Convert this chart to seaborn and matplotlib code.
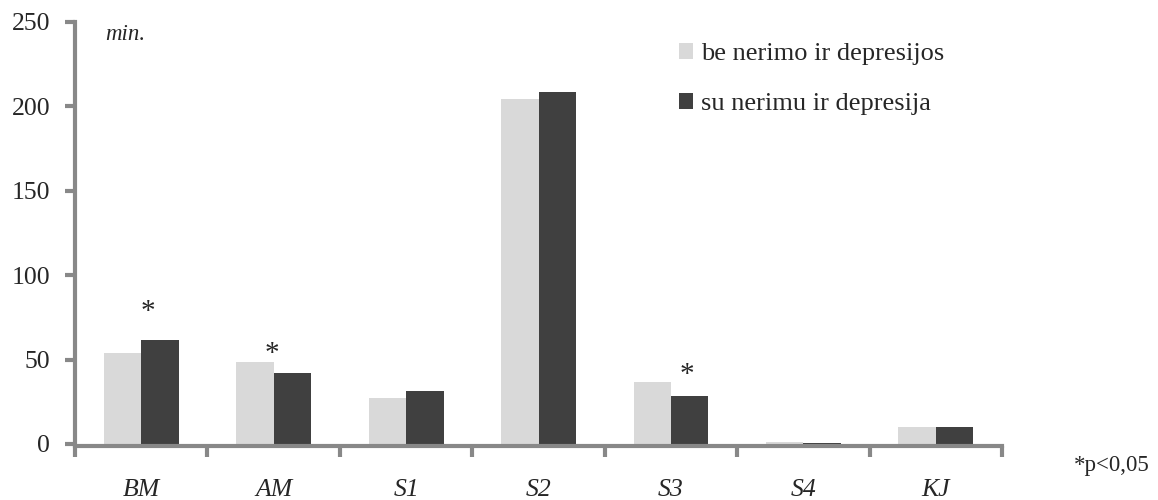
import matplotlib
matplotlib.use("Agg")
import matplotlib.pyplot as plt
from matplotlib.patches import Patch
from matplotlib.ticker import FixedLocator
import numpy as np
import pandas as pd
import seaborn as sns

# Data
categories = ["BM", "AM", "S1", "S2", "S3", "S4", "KJ"]
group_labels = ["be nerimo ir depresijos", "su nerimu ir depresija"]
without_anx = [53.8, 48.6, 27.5, 204.6, 36.8, 1.2, 10.3]
with_anx = [61.7, 41.9, 31.4, 208.5, 28.6, 0.5, 10.3]
significant = ["BM", "AM", "S3"]
y_ticks = [0, 50, 100, 150, 200, 250]

light = "#d9d9d9"
dark = "#404040"
axis_grey = "#888888"

df = pd.DataFrame({
    "cat": categories * 2,
    "group": [group_labels[0]] * len(categories) + [group_labels[1]] * len(categories),
    "value": without_anx + with_anx,
})

sns.set_theme(style="white")
plt.rcParams["font.family"] = ["Liberation Serif", "DejaVu Serif"]

fig = plt.figure(figsize=(11.58, 5.0), dpi=100)
ax = fig.add_axes([0.0648, 0.112, 0.8005, 0.844])

sns.barplot(data=df, x="cat", y="value", hue="group", order=categories,
            hue_order=group_labels, palette=[light, dark], width=0.565,
            gap=0, legend=False, ax=ax, edgecolor="none", linewidth=0)

ax.set_xlim(-0.5, len(categories) - 0.5)
ax.set_ylim(0, 250)
ax.set_xlabel("")
ax.set_ylabel("")

# spines: grey, drawn just outside the data area
for s in ["top", "right"]:
    ax.spines[s].set_visible(False)
for s in ["left", "bottom"]:
    ax.spines[s].set_color(axis_grey)
    ax.spines[s].set_linewidth(3)
ax.spines["bottom"].set_position(("outward", 1.5))
ax.spines["bottom"].set_bounds(-0.5, len(categories) - 0.5)

# y ticks
ax.set_yticks(y_ticks)
ax.set_yticklabels([str(t) for t in y_ticks], fontsize=18.5)
ax.tick_params(axis="y", direction="out", length=7, width=3, color=axis_grey,
               pad=11, left=True)

# x: labels at category centers, tick marks at boundaries
ax.set_xticks(range(len(categories)))
ax.set_xticklabels(categories, fontsize=18.5, fontstyle="italic")
ax.tick_params(axis="x", which="major", length=0, pad=24, bottom=True)
ax.xaxis.set_minor_locator(FixedLocator(np.arange(-0.5, len(categories), 1.0)))
ax.tick_params(axis="x", which="minor", direction="out", length=8, width=3,
               color=axis_grey, bottom=True)

# unit label
ax.text(0.032, 0.97, "min.", transform=ax.transAxes, fontsize=16.5,
        fontstyle="italic", ha="left", va="center")

# significance markers
star_offsets = {"BM": (0.05, 16.5), "AM": (-0.01, 4.5), "S3": (0.12, 4.0)}
for c in significant:
    i = categories.index(c)
    top = max(without_anx[i], with_anx[i])
    dx, dy = star_offsets[c]
    ax.text(i + dx, top + dy, "*", fontsize=21, ha="center", va="center")

fig.text(0.993, 0.07, "*p<0,05", fontsize=16.5, ha="right", va="center")

# legend
handles = [Patch(facecolor=light, edgecolor="none"), Patch(facecolor=dark, edgecolor="none")]
leg = ax.legend(handles, group_labels, loc="upper left",
                bbox_to_anchor=(0.640, 0.975), frameon=False, fontsize=19,
                handlelength=0.55, handleheight=0.55, handletextpad=0.3,
                labelspacing=1.05, borderaxespad=0)

fig.savefig("out.png", dpi=100, facecolor="white")
